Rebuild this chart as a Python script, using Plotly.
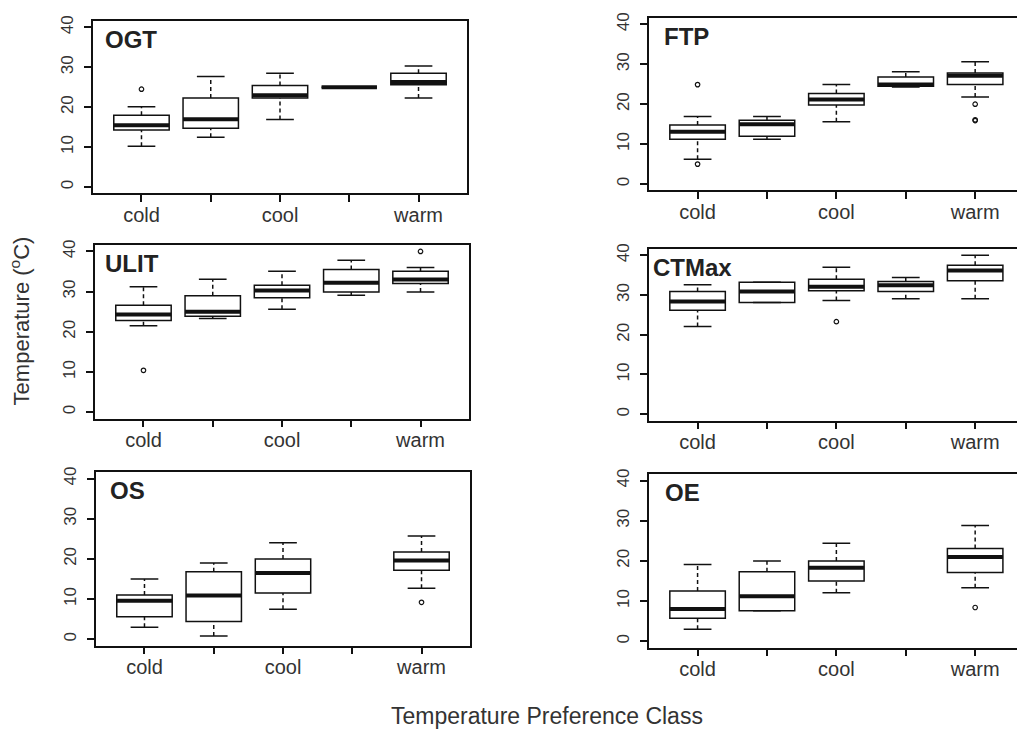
import plotly.graph_objects as go

W, H = 1017, 731

# ---------------- data ----------------
positions = [1, 2, 3, 4, 5]
label_positions = [1, 3, 5]
tick_labels = ["cold", "cool", "warm"]
panel_names = ["OGT", "FTP", "ULIT", "CTMax", "OS", "OE"]

# per panel: lower whisker, q1, median, q3, upper whisker (None = no group)
OGT_lo  = [10.2, 12.5, 16.9, 25.0, 22.3]
OGT_q1  = [14.3, 14.7, 22.3, 25.0, 25.6]
OGT_med = [15.5, 17.0, 23.0, 25.0, 26.3]
OGT_q3  = [18.0, 22.3, 25.4, 25.0, 28.5]
OGT_hi  = [20.1, 27.7, 28.5, 25.0, 30.3]
OGT_out_x = [1]
OGT_out_y = [24.5]

FTP_lo  = [6.2, 11.2, 15.6, 24.3, 21.8]
FTP_q1  = [11.2, 12.0, 19.8, 24.5, 24.9]
FTP_med = [13.1, 15.0, 21.2, 24.9, 27.1]
FTP_q3  = [14.8, 16.0, 22.7, 26.8, 27.8]
FTP_hi  = [16.9, 16.9, 24.9, 28.1, 30.6]
FTP_out_x = [1, 1, 5, 5, 5]
FTP_out_y = [24.9, 5.0, 20.0, 15.9, 16.1]

ULIT_lo  = [21.5, 23.3, 25.6, 29.1, 29.9]
ULIT_q1  = [22.8, 23.9, 28.5, 29.9, 32.0]
ULIT_med = [24.3, 25.0, 30.3, 32.2, 33.0]
ULIT_q3  = [26.6, 29.0, 31.6, 35.5, 35.1]
ULIT_hi  = [31.2, 33.1, 35.1, 37.8, 36.0]
ULIT_out_x = [1, 5]
ULIT_out_y = [10.4, 40.0]

CTMax_lo  = [22.1, 28.1, 28.6, 29.1, 29.1]
CTMax_q1  = [26.2, 28.1, 31.1, 30.9, 33.6]
CTMax_med = [28.4, 30.9, 32.1, 32.5, 36.2]
CTMax_q3  = [30.9, 33.2, 34.0, 33.4, 37.5]
CTMax_hi  = [32.6, 33.2, 37.0, 34.4, 40.0]
CTMax_out_x = [3]
CTMax_out_y = [23.3]

OS_lo  = [3.0, 0.8, 7.5, None, 12.7]
OS_q1  = [5.6, 4.4, 11.5, None, 17.2]
OS_med = [9.6, 10.9, 16.5, None, 19.6]
OS_q3  = [11.0, 16.8, 20.0, None, 21.7]
OS_hi  = [15.0, 19.0, 24.0, None, 25.7]
OS_out_x = [5]
OS_out_y = [9.2]

OE_lo  = [3.0, 7.6, 12.1, None, 13.3]
OE_q1  = [5.7, 7.6, 15.0, None, 17.1]
OE_med = [8.0, 11.2, 18.3, None, 21.0]
OE_q3  = [12.5, 17.3, 20.0, None, 23.1]
OE_hi  = [19.1, 20.0, 24.4, None, 28.8]
OE_out_x = [5]
OE_out_y = [8.4]

y_ticks = [0, 10, 20, 30, 40]

panels = [
    (OGT_lo, OGT_q1, OGT_med, OGT_q3, OGT_hi, OGT_out_x, OGT_out_y),
    (FTP_lo, FTP_q1, FTP_med, FTP_q3, FTP_hi, FTP_out_x, FTP_out_y),
    (ULIT_lo, ULIT_q1, ULIT_med, ULIT_q3, ULIT_hi, ULIT_out_x, ULIT_out_y),
    (CTMax_lo, CTMax_q1, CTMax_med, CTMax_q3, CTMax_hi, CTMax_out_x, CTMax_out_y),
    (OS_lo, OS_q1, OS_med, OS_q3, OS_hi, OS_out_x, OS_out_y),
    (OE_lo, OE_q1, OE_med, OE_q3, OE_hi, OE_out_x, OE_out_y),
]

# ---------------- layout geometry (pixels) ----------------
# (left, right, top, bottom, xrange_max)
frames = [
    (93, 467, 15, 189, 5.7),
    (649, 1017, 12, 186, 5.603),
    (95, 469, 241, 416, 5.7),
    (649, 1017, 245, 418, 5.603),
    (96, 470, 470, 645, 5.7),
    (649, 1017, 472, 647, 5.603),
]
label_shift = [10, 13, 8, 2, 12, 14]

FONT = "Liberation Sans, Arial, sans-serif"
LINE = "#111111"
TXT = "#333333"
BOXW = 0.8
STAPLE = 0.2

fig = go.Figure()
layout = dict(
    width=W, height=H, margin=dict(l=0, r=0, t=0, b=0),
    paper_bgcolor="white", plot_bgcolor="white", showlegend=False,
    font=dict(family=FONT, color=TXT),
)
annotations = []

for i, (lo, q1, med, q3, hi, ox, oy) in enumerate(panels):
    n = i + 1
    xa = "x" if n == 1 else f"x{n}"
    ya = "y" if n == 1 else f"y{n}"
    xs = [p for p, v in zip(positions, med) if v is not None]
    sel = lambda arr: [v for v in arr if v is not None]
    # boxes
    fig.add_trace(go.Box(
        x=xs, q1=sel(q1), median=sel(med), q3=sel(q3),
        lowerfence=sel(q1), upperfence=sel(q3),
        width=BOXW, fillcolor="white",
        line=dict(color=LINE, width=1.5), whiskerwidth=0,
        boxpoints=False, hoverinfo="skip", xaxis=xa, yaxis=ya,
    ))
    # whiskers (dashed), staples, thick medians
    wx, wy = [], []
    sx, sy = [], []
    mx, my = [], []
    for p, a, b, c, d, m in zip(positions, lo, q1, q3, hi, med):
        if m is None:
            continue
        if a < b:
            wx += [p, p, None]; wy += [a, b, None]
        if d > c:
            wx += [p, p, None]; wy += [c, d, None]
        sx += [p - STAPLE, p + STAPLE, None, p - STAPLE, p + STAPLE, None]
        sy += [a, a, None, d, d, None]
        mx += [p - BOXW / 2, p + BOXW / 2, None]
        my += [m, m, None]
    fig.add_trace(go.Scatter(x=wx, y=wy, mode="lines",
                             line=dict(color=LINE, width=1.5, dash="4px,3px"),
                             hoverinfo="skip", xaxis=xa, yaxis=ya))
    fig.add_trace(go.Scatter(x=sx, y=sy, mode="lines",
                             line=dict(color=LINE, width=1.5),
                             hoverinfo="skip", xaxis=xa, yaxis=ya))
    fig.add_trace(go.Scatter(x=mx, y=my, mode="lines",
                             line=dict(color=LINE, width=4),
                             hoverinfo="skip", xaxis=xa, yaxis=ya))
    fig.add_trace(go.Scatter(x=ox, y=oy, mode="markers",
                             marker=dict(symbol="circle-open", size=4.5,
                                         color=LINE, line=dict(width=1.2)),
                             hoverinfo="skip", xaxis=xa, yaxis=ya))

    L, R, T, B, xmax = frames[i]
    left_col = (i % 2 == 0)
    xkey = "xaxis" if n == 1 else f"xaxis{n}"
    ykey = "yaxis" if n == 1 else f"yaxis{n}"
    layout[xkey] = dict(
        domain=[L / W, R / W], range=[0.3, xmax], anchor=ya,
        tickmode="array", tickvals=label_positions, ticktext=tick_labels,
        ticks="outside", ticklen=7, tickwidth=1.5, tickcolor=LINE,
        minor=dict(tickmode="array", tickvals=[p for p in positions if p not in label_positions],
                   ticks="outside", ticklen=7, tickwidth=1.5, tickcolor=LINE, showgrid=False),
        ticklabelstandoff=-4,
        showline=True, mirror=True, linecolor=LINE, linewidth=1.5,
        showgrid=False, zeroline=False, fixedrange=True,
        tickfont=dict(family=FONT, size=20, color=TXT),
    )
    layout[ykey] = dict(
        domain=[1 - B / H, 1 - T / H], range=[-1.6, 41.6], anchor=xa,
        tickmode="array", tickvals=y_ticks, ticktext=[str(v) for v in y_ticks],
        tickangle=-90, ticklabelstandoff=4,
        ticks="outside", ticklen=7, tickwidth=1.5, tickcolor=LINE,
        showline=True, mirror=left_col, linecolor=LINE, linewidth=1.5,
        showgrid=False, zeroline=False, fixedrange=True,
        tickfont=dict(family=FONT, size=17, color=TXT),
    )
    annotations.append(dict(
        text=f"<b>{panel_names[i]}</b>", xref=f"{xa} domain", yref=f"{ya} domain",
        x=0, y=1, xanchor="left", yanchor="top", xshift=label_shift[i], yshift=-3,
        showarrow=False, font=dict(family=FONT, size=24, color="#222222"),
    ))

annotations.append(dict(
    text="Temperature Preference Class", xref="paper", yref="paper",
    x=547 / W, y=1 - 716 / H, xanchor="center", yanchor="middle",
    showarrow=False, font=dict(family=FONT, size=23, color=TXT),
))
annotations.append(dict(
    text="Temperature (<sup>o</sup>C)", xref="paper", yref="paper",
    x=20 / W, y=1 - 318 / H, xanchor="center", yanchor="middle", textangle=-90,
    showarrow=False, font=dict(family=FONT, size=22, color=TXT),
))
layout["annotations"] = annotations
fig.update_layout(**layout)
fig.write_html("out.html")
